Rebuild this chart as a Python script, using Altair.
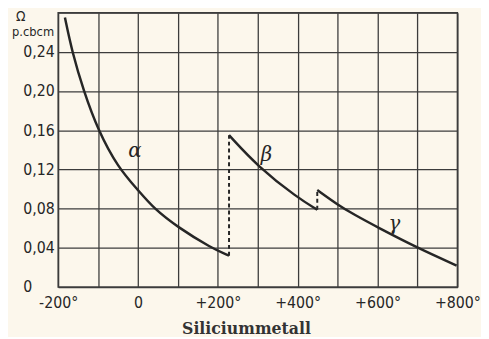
import altair as alt
import pandas as pd

# ---- data ----
alpha_x = [-183, -165, -136, -100, -50, 0, 40, 100, 183, 228]
alpha_y = [0.275, 0.240, 0.200, 0.160, 0.122, 0.099, 0.080, 0.061, 0.040, 0.032]

beta_x = [228, 300, 400, 449]
beta_y = [0.155, 0.123, 0.091, 0.079]

gamma_x = [449, 500, 541, 600, 700, 798]
gamma_y = [0.099, 0.084, 0.074, 0.061, 0.040, 0.022]

jump_x = [228, 449]
jump_lo = [0.032, 0.079]
jump_hi = [0.155, 0.099]

phase_labels = ["α", "β", "γ"]
phase_lx = [-8, 322, 642]
phase_ly = [0.139, 0.135, 0.064]

x_ticks = [-200, -100, 0, 100, 200, 300, 400, 500, 600, 700, 800]
x_tick_labels = ["-200°", "", "0", "", "+200°", "", "+400°", "", "+600°", "", "+800°"]
y_ticks = [0, 0.04, 0.08, 0.12, 0.16, 0.20, 0.24, 0.28]
y_tick_labels = ["0", "0,04", "0,08", "0,12", "0,16", "0,20", "0,24", ""]

x_title = "Siliciummetall"
y_unit_top = "Ω"
y_unit = "p.cbcm"

# ---- tables ----
curves = pd.concat([
    pd.DataFrame({"x": alpha_x, "y": alpha_y, "phase": "a"}),
    pd.DataFrame({"x": beta_x, "y": beta_y, "phase": "b"}),
    pd.DataFrame({"x": gamma_x, "y": gamma_y, "phase": "g"}),
], ignore_index=True)
jumps = pd.DataFrame({"x": jump_x, "y": jump_lo, "y2": jump_hi})
labels = pd.DataFrame({"x": phase_lx, "y": phase_ly, "t": phase_labels})
unit_df = pd.DataFrame({"t": [y_unit_top]})


def label_expr(vals, texts):
    expr = "''"
    for v, t in reversed(list(zip(vals, texts))):
        expr = f"abs(datum.value - ({v})) < 1e-6 ? '{t}' : ({expr})"
    return expr


INK = "#262626"
GRID = "#3c3c3c"
SANS = "DejaVu Sans Condensed"
SERIF = "DejaVu Serif"

xscale = alt.Scale(domain=[-200, 800], nice=False, zero=False)
yscale = alt.Scale(domain=[0, 0.28], nice=False, zero=False)

xaxis = alt.Axis(
    values=x_ticks, grid=True, gridColor=GRID, gridWidth=1.3, gridOpacity=1,
    domain=False, ticks=False, labelExpr=label_expr(x_ticks, x_tick_labels),
    labelFont=SANS, labelFontSize=16, labelColor=INK, labelPadding=8,
    labelFlush=False, labelOverlap=False, labelBound=False,
    title=x_title, titleFont=SERIF, titleFontSize=16, titleFontWeight="bold",
    titleColor="#333333", titleX=191, titleY=47, titleBaseline="alphabetic",
    titleAnchor="start", titleAlign="center",
)
yaxis = alt.Axis(
    values=y_ticks, grid=True, gridColor=GRID, gridWidth=1.3, gridOpacity=1,
    domain=False, ticks=False, labelExpr=label_expr(y_ticks, y_tick_labels),
    labelFont=SANS, labelFontSize=16, labelColor=INK, labelPadding=36,
    labelAlign="left", labelBaseline="middle", labelFlush=False, labelOverlap=False,
    labelBound=False,
    title=y_unit, titleFont=SANS, titleFontSize=13, titleFontWeight="normal",
    titleColor=INK, titleAngle=0, titleX=-26, titleY=23, titleAlign="center",
    titleBaseline="alphabetic",
)

X = alt.X("x:Q", scale=xscale, axis=xaxis)
Y = alt.Y("y:Q", scale=yscale, axis=yaxis)

lines = alt.Chart(curves).mark_line(color=INK, strokeWidth=2.5, interpolate="basis").encode(
    x=X, y=Y, detail="phase:N",
)
dashes = alt.Chart(jumps).mark_rule(color=INK, strokeWidth=2, strokeDash=[4, 3]).encode(
    x=X, y=Y, y2="y2:Q",
)
texts = alt.Chart(labels).mark_text(font=SERIF, fontSize=20, color=INK, fontStyle="italic").encode(
    x=X, y=Y, text="t:N",
)
unit = alt.Chart(unit_df).mark_text(font=SANS, fontSize=14, color=INK, baseline="middle").encode(
    x=alt.value(-38), y=alt.value(4), text="t:N",
)

chart = (
    alt.layer(lines, dashes, texts, unit)
    .properties(width=406, height=279,
                autosize=alt.AutoSizeParams(type="none"),
                padding={"left": 51, "top": 2, "right": 24, "bottom": 48},
                background="#fcf7ec")
    .configure_view(stroke=GRID, strokeWidth=1.5)
)

chart.save("out.html", embed_options={"renderer": "svg", "actions": False})
